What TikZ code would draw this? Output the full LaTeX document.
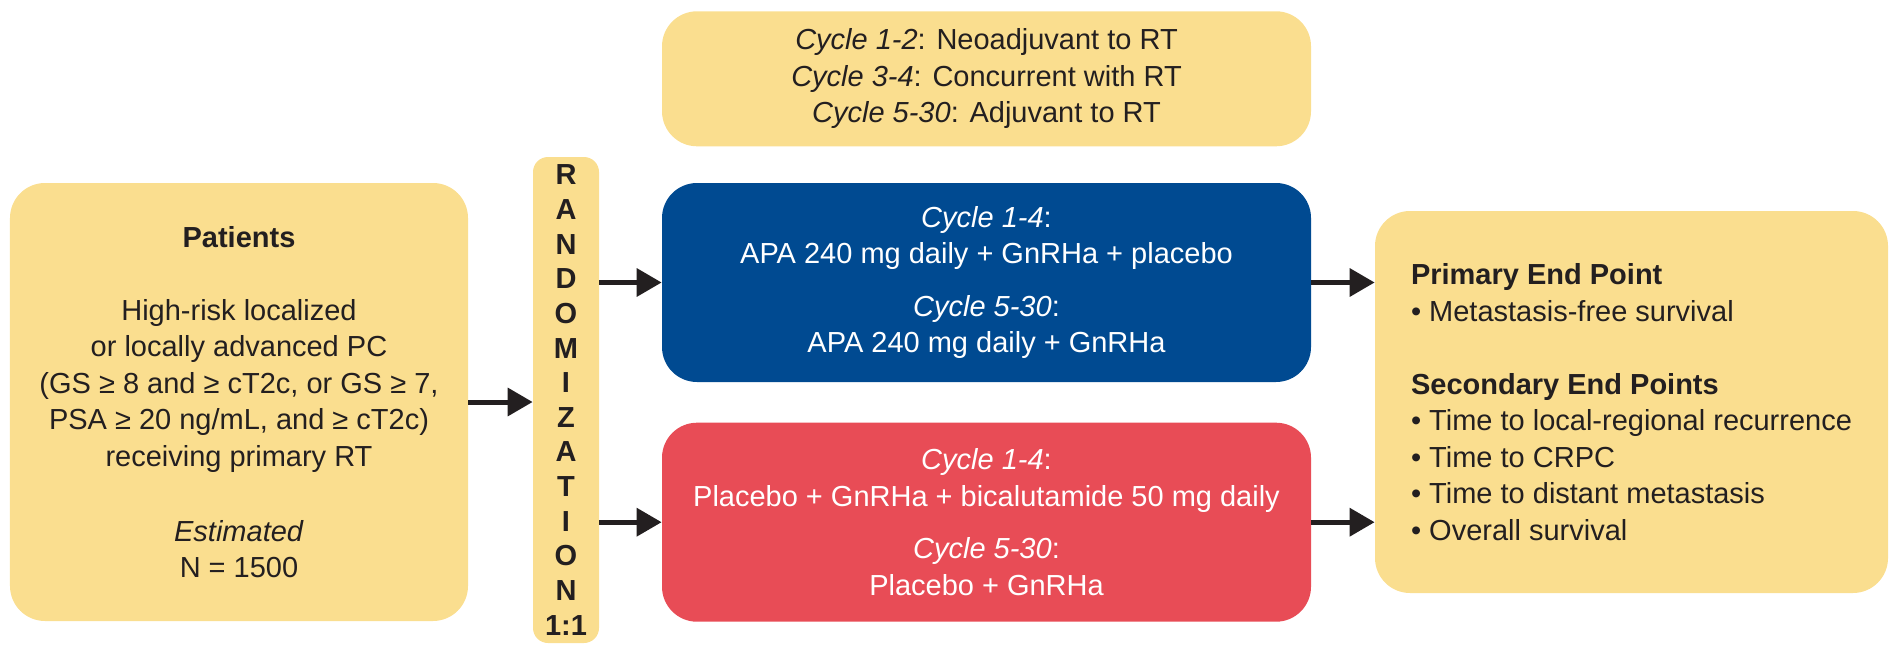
\documentclass[tikz,border=0pt]{standalone}
\usepackage{fontspec}
\setmainfont{Liberation Sans}
\usetikzlibrary{arrows.meta,positioning}
\definecolor{boxyellow}{RGB}{250,222,143}
\definecolor{armblue}{RGB}{0,74,145}
\definecolor{armred}{RGB}{232,76,86}
\definecolor{inkdark}{RGB}{35,31,32}
\begin{document}
\begin{tikzpicture}[
    box/.style={rounded corners=0.7cm, align=center, text=inkdark, inner sep=0pt,
      font=\fontsize{16.5}{20.8}\selectfont},
    arm/.style={box, text=white, minimum width=12.98cm, minimum height=3.98cm},
    arr/.style={-{Triangle[length=0.5cm,width=0.55cm]}, line width=0.1cm, inkdark}
  ]
  \useasboundingbox (0,0) rectangle (37.82,12.92);
  % patients
  \node[box, fill=boxyellow, minimum width=9.16cm, minimum height=8.76cm] (pat) at (4.78,4.88)
    {\textbf{Patients}\\[0.73cm]
     High-risk localized\\
     or locally advanced PC\\
     (GS ≥ 8 and ≥ cT2c, or GS ≥ 7,\\
     PSA ≥ 20 ng/mL, and ≥ cT2c)\\
     receiving primary RT\\[0.76cm]
     \textit{Estimated}\\
     N = 1500};
  % randomization
  \node[box, fill=boxyellow, rounded corners=0.3cm, minimum width=1.32cm, minimum height=9.72cm,
    font=\bfseries\fontsize{16.5}{19.7}\selectfont] (rand) at (11.32,4.92)
    {R\\A\\N\\D\\O\\M\\I\\Z\\A\\T\\I\\O\\N\\1:1};
  % treatment arms
  \node[arm, fill=armblue] (apa) at (19.73,7.27)
    {\textit{Cycle 1-4}:\\
     APA 240 mg daily + GnRHa + placebo\\[0.31cm]
     \textit{Cycle 5-30}:\\
     APA 240 mg daily + GnRHa};
  \node[arm, fill=armred, below=0.8cm of apa] (pbo)
    {\textit{Cycle 1-4}:\\
     Placebo + GnRHa + bicalutamide 50 mg daily\\[0.31cm]
     \textit{Cycle 5-30}:\\
     Placebo + GnRHa};
  % cycles
  \node[box, fill=boxyellow, minimum width=12.98cm, minimum height=2.7cm, above=0.72cm of apa] (cyc)
    {\textit{Cycle 1-2}: Neoadjuvant to RT\\
     \textit{Cycle 3-4}: Concurrent with RT\\
     \textit{Cycle 5-30}: Adjuvant to RT};
  % end points
  \node[box, fill=boxyellow, align=left, minimum width=10.26cm, minimum height=7.64cm] (ends) at (32.63,4.88)
    {\textbf{Primary End Point}\\
     • Metastasis-free survival\\[0.73cm]
     \textbf{Secondary End Points}\\
     • Time to local-regional recurrence\\
     • Time to CRPC\\
     • Time to distant metastasis\\
     • Overall survival};
  % arrows
  \draw[arr] (pat.east) -- (pat.east -| rand.west);
  \draw[arr] (rand.east |- apa) -- (apa.west);
  \draw[arr] (rand.east |- pbo) -- (pbo.west);
  \draw[arr] (apa.east) -- (apa.east -| ends.west);
  \draw[arr] (pbo.east) -- (pbo.east -| ends.west);
\end{tikzpicture}
\end{document}
